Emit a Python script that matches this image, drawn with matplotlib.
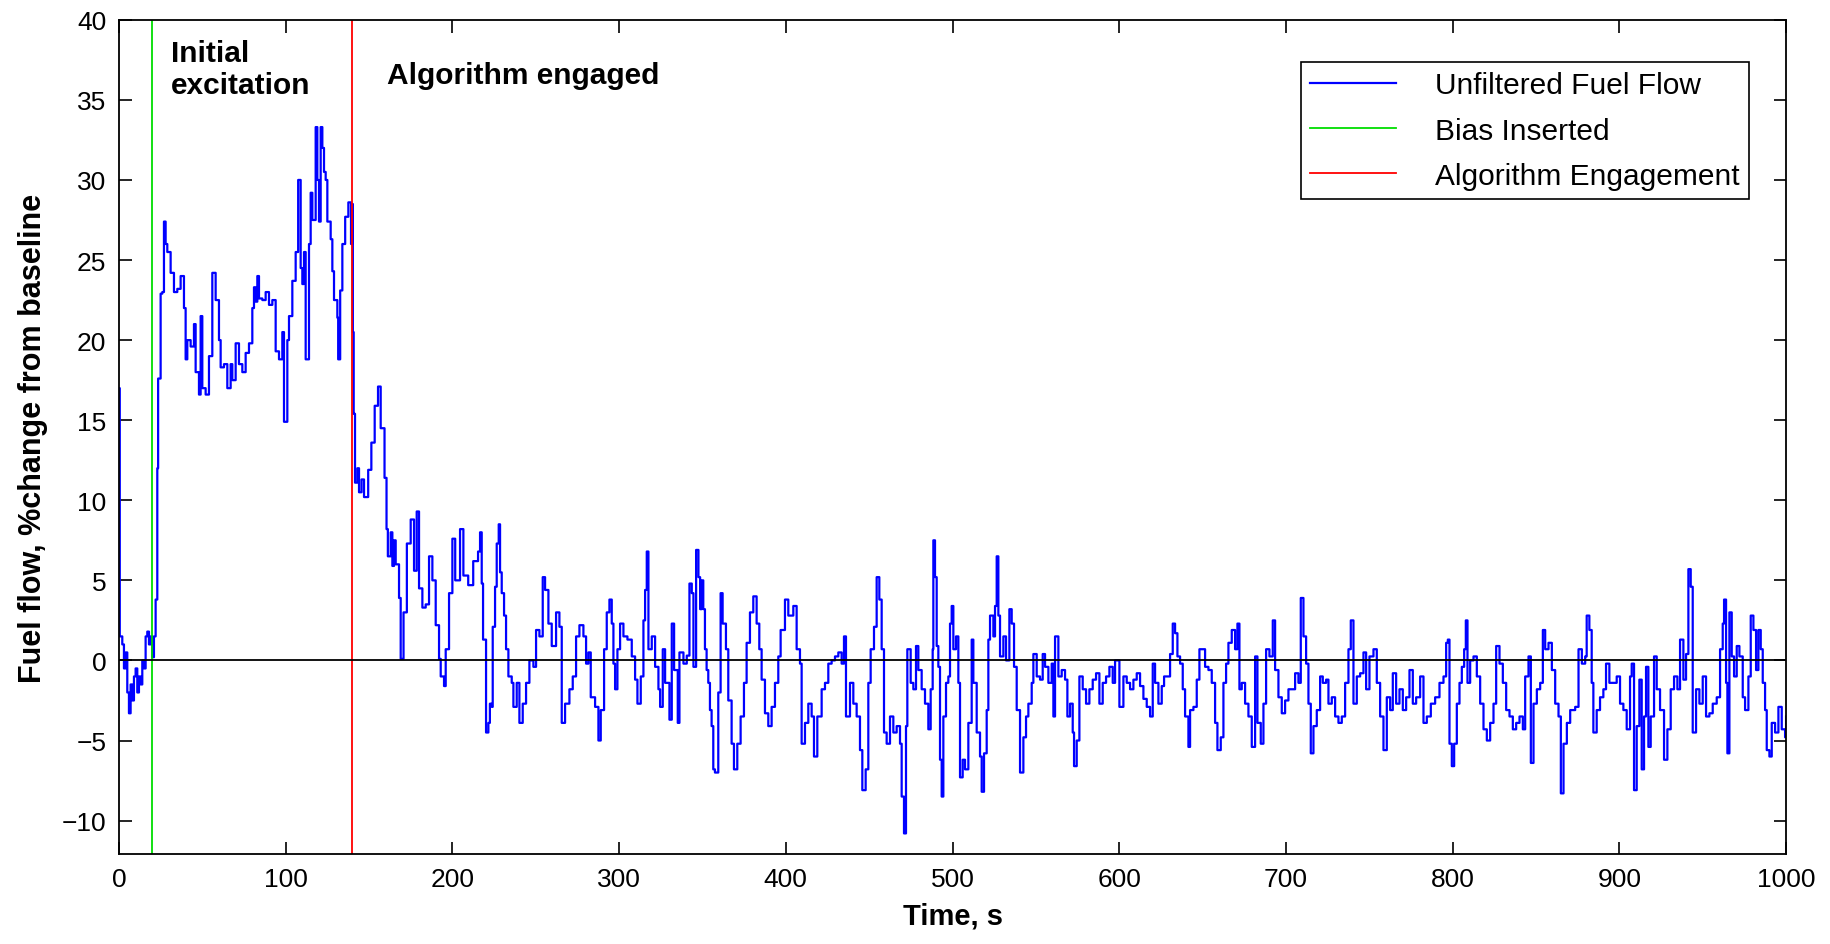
import matplotlib
matplotlib.use("Agg")
import matplotlib.pyplot as plt

plt.rcParams['font.family'] = ['Liberation Sans', 'DejaVu Sans']

# readings (time in s, fuel flow in % change from baseline)
time_s = [
    0, 0.5, 2, 3, 4, 5, 6, 7, 8, 9, 10, 11, 12, 13, 14, 15, 16, 17, 18, 19, 20, 21,
    22, 23, 23.5, 25, 26, 27, 28, 29, 31, 33, 35, 37, 39, 40, 41, 43, 45, 46, 48, 49, 50, 52, 54, 56, 58,
    60, 61, 63, 65, 67, 68, 70, 72, 74, 76, 78, 80, 81, 82, 83, 84, 86, 88, 90, 92, 94, 96, 98, 99,
    101, 102, 104, 106, 107.5, 109, 110, 111, 112, 114, 115, 116, 118, 119, 120, 121, 122, 123, 124, 125,
    127, 128, 129, 131, 131.5, 132.7, 134, 135.7, 137.6, 139.2, 139.8, 140.3, 140.8, 141.6, 143, 144,
    145.5, 147, 149.5, 151.4, 153.4, 155.4, 157, 159.3, 160.5, 161.3, 163, 164, 165, 166, 168, 169,
    170.7, 172.7, 175, 177, 178.6, 180, 182, 184, 186, 188, 190, 192, 193, 195, 196, 198,
    200, 201.7, 204.6, 206.6, 209.5, 212.5, 215.4, 216.6, 217.6, 218.4, 220.2, 221.6, 222.5, 223.6, 224.2,
    225.6, 226.6, 227.8, 228.6, 229.6, 231, 232.2, 233.6, 235.6, 236.6, 238.6, 240.2, 242.2, 244.2, 246.2,
    248.6, 250.2, 252.2, 254.2, 255.6, 257.6, 259.6, 262.2, 264.2, 265.6, 267.6, 270.2, 272.2, 274.2,
    276.2, 278.6, 280.2, 281.6, 283, 285.6, 287.6, 289, 291, 292.6, 294.2, 295.6, 296.6, 297.6, 299,
    300.6, 302.6, 305, 307.6, 309.6, 311, 313, 314.6, 315.6, 316.6, 317.6, 319.6, 321.6, 323.6, 324.6,
    326.2, 327.6, 330.2, 331.6, 333, 335.2, 336.2, 338.6, 340.6, 342.2, 343.6, 344.6, 346.2, 347.6, 348.6,
    349.5, 350.5, 351.5, 352.5, 353.5, 354.5, 355.5, 356.5, 357.5, 359.5, 360.9, 362.1, 364.1, 365.5,
    367.5, 368.9, 370.9, 372.9, 374.9, 376.5, 378.5, 380.5, 382.5, 384.1, 385.5, 387.5, 389.5, 391.5,
    393.5, 395.5, 396.9, 399.5, 401.5, 404.5, 406.5, 408.5, 409.5, 411.5, 413.5, 415.5, 416.9, 418.9,
    421.5, 423.5, 425.5, 427.5, 429.5, 431.5, 433.5, 434.9, 436.1, 438.5, 440.5, 442.5, 444.5, 445.9,
    447.9, 449.5, 450.9, 452.9, 454.5, 456.1, 457.5, 458.9, 460.5, 462.5, 464.5, 466.5, 468.5, 469.5,
    470.9, 472.1, 472.9, 474.9, 476.5, 478.1, 479.5, 481.5, 483.5, 485.5, 486.9, 488.1, 488.5, 489.5,
    490.5, 491.5, 492.5, 493.5, 494.5, 496.1, 497.5, 498.5, 499.5, 500.5, 502.1, 503.5, 504.5, 506.1,
    507.5, 509.5, 511.5, 512.5, 514.5, 516.5, 517.5, 518.9, 520.5, 521.5, 522.5, 524.5, 525.5, 526.5,
    527.5, 528.5, 530.5, 532.1, 534.1, 535.5, 536.9, 538.5, 540.5, 542.5, 544.1, 545.5, 547.5, 548.5,
    550.5, 552.5, 554.1, 555.5, 557.5, 559.5, 560.5, 561.5, 563.5, 565.5, 567.5, 568.9, 570.5, 572.1,
    572.9, 574.5, 576.1, 578.1, 580.1, 582.1, 584.1, 586.1, 588.1, 590.1, 592.1, 594.1, 596.1, 597.5,
    600.1, 602.5, 604.5, 606.5, 608.5, 610.5, 612.5, 614.5, 616.5, 618.5, 620.1, 621.5, 623.5, 625.5,
    626.9, 628.9, 630.5, 632.1, 633.5, 634.9, 636.5, 638.1, 639.5, 641.5, 642.5, 644.5, 646.5, 648.1,
    649.5, 651.5, 653.5, 655.5, 657.5, 658.9, 660.9, 662.5, 664.1, 665.5, 667.5, 669.5, 670.9, 672.1,
    673.5, 675.5, 677.5, 679.5, 681.5, 682.9, 684.9, 686.5, 688.1, 690.1, 692.1, 693.5, 695.5, 697.5,
    699.5, 701.5, 703.5, 705.5, 707.5, 708.9, 710.5, 712.1, 713.5, 714.9, 716.5, 718.5, 720.5, 722.1,
    724.1, 725.5, 727.5, 729.5, 731.5, 733.5, 735.5, 737.5, 738.9, 740.5, 742.5, 744.5, 746.5, 748.1,
    750.1, 752.5, 754.5, 756.5, 758.5, 760.5, 762.5, 764.1, 766.1, 768.1, 770.1, 772.1, 774.1, 776.1,
    778.1, 780.5, 782.5, 784.5, 786.9, 789.5, 792.1, 794.5, 796.1, 797.1, 798.1, 799.5, 800.9, 802.5,
    804.1, 805.5, 806.9, 807.9, 808.9, 810.5, 812.5, 814.5, 816.5, 818.5, 820.5, 822.5, 824.5, 826.1,
    828.1, 830.1, 832.1, 834.1, 836.1, 838.1, 840.1, 842.1, 843.5, 845.5, 846.9, 848.5, 850.5, 852.5,
    854.1, 855.5, 857.5, 859.5, 861.5, 863.5, 864.9, 866.5, 868.5, 870.5, 873.5, 875.5, 877.5, 879.5,
    880.4, 882, 883.4, 884.4, 886.4, 888.4, 890.4, 892, 894, 896, 898.4, 900.4, 902.4, 904.4,
    906.4, 907.4, 908.8, 910.4, 912, 913.4, 914.8, 916, 917.4, 918.8, 920.8, 922.4, 924.4, 926.8,
    928.8, 930.8, 932.8, 934.8, 936.4, 938.4, 940, 941.4, 942.8, 944, 946, 948, 950, 952,
    954, 956, 958.4, 960.4, 962, 962.8, 964, 964.8, 966, 967.4, 968.8, 970.4, 972, 974,
    975.4, 977.4, 978.8, 980.4, 982, 983.4, 984.8, 986, 987.4, 988.4, 990, 991.4, 993.4, 995.4,
    997.4, 999.4, 1000,
]
fuel_pct = [
    17, 1.5, 1.0, -0.5, 0.5, -2, -3.3, -1.5, -2.5, -1, -0.5, -2, -1, -1.5, 0, -0.5, 1.5, 1.8, 1.0, 1.5, 0.2, 1.5,
    3.8, 12, 17.6, 22.9, 23, 27.4, 26, 25.5, 24.2, 23, 23.2, 24, 22, 18.8, 20, 19.6, 21, 18, 16.6, 21.5, 17, 16.6, 19, 24.2, 22.5,
    20, 18.3, 18.5, 17, 18.5, 17.5, 19.8, 18.5, 18, 19.2, 19.8, 22, 23.3, 22.4, 24, 22.6, 22.5, 23.0, 22.2, 22.5, 19.3, 18.8, 20.5, 14.9,
    20, 21.5, 23.7, 25.5, 30, 24.5, 23.5, 25.5, 18.8, 26, 29.2, 27.5, 33.3, 30, 27.4, 33.3, 32, 30.5, 30, 27.4,
    26.3, 24.3, 22.5, 21.4, 18.8, 23.1, 26, 27.7, 28.6, 26, 28.5, 20.5, 15.4, 11.1, 12, 10.5,
    11.3, 10.2, 11.9, 13.6, 15.9, 17.1, 14.5, 11.4, 8.2, 6.5, 8, 5.9, 7.5, 6, 3.9, 0.1,
    3, 7.3, 8.8, 5.6, 9.3, 4.5, 3.3, 3.5, 6.5, 5, 2.2, 0.1, -1, -1.6, 0.7, 4.2,
    7.6, 5, 8.2, 5.3, 4.7, 6.2, 6.8, 8, 4.8, 1.3, -4.5, -3.9, -2.7, -2.9, 2.1,
    4.6, 7.3, 8.5, 5.5, 4.2, 2.8, 0.7, -1, -1.4, -2.9, -1.4, -3.9, -2.7, -1.4, 0,
    -0.4, 1.9, 1.5, 5.2, 4.4, 2.3, 0.9, 3, 2.1, -3.9, -2.7, -1.8, -1, 1.5,
    2.2, 1.5, -0.2, 0.5, -2.3, -2.9, -5, -3.1, 0.7, 3, 3.8, 2.3, -0.2, -1.8, 0.7,
    2.3, 1.5, 1.3, 0.25, -1.2, -2.7, -1, 2.5, 4.4, 6.8, 0.7, 1.5, -0.4, -1.8, -2.9,
    0.7, -1.4, -3.7, 2.3, -0.6, -3.9, 0.5, -0.2, 0.3, 4.8, 4.2, -0.4, 6.9, 5.2, 3.2,
    5, 3.2, 0.7, -0.6, -1.4, -3.1, -4.1, -6.8, -7, -2, 4.2, 2.3, 0.7, -2.5,
    -5.2, -6.8, -5.2, -3.5, -1.4, 1.1, 3, 4, 2.3, 0.7, -1.2, -3.3, -4.1, -2.9,
    -1.4, 0.25, 1.9, 3.8, 2.8, 3.4, 0.7, -0.2, -5.2, -3.9, -2.7, -3.5, -6, -3.5,
    -1.8, -1.4, -0.2, 0, 0.25, 0.5, -0.2, 1.5, -3.5, -1.4, -2.7, -3.5, -5.6, -8.1,
    -6.8, -1.4, 0.7, 2.1, 5.2, 3.8, 0.7, -4.5, -5.2, -3.5, -4.5, -4.1, -5.2, -8.5,
    -10.8, -4.1, 0.7, -1.4, -1.8, 0.9, -0.6, -1.8, -2.7, -4.3, -1.8, 0.7, 7.5, 5.2,
    0.9, -0.4, -6.2, -8.5, -3.5, -1.4, -1, 2.3, 3.4, 0.7, 1.5, -1.4, -7.3, -6.2,
    -6.8, -3.9, 1.3, -1.4, -4.5, -6, -8.2, -5.8, -3.1, 1.3, 2.8, 1.5, 3.4, 6.5,
    2.8, 0.25, 1.5, 0, 3.2, 2.3, -0.4, -3.1, -7, -4.8, -3.5, -2.7, -1.4, 0.4,
    -1, -1.2, 0.4, -0.4, -1.4, -0.2, -3.5, 1.5, -1, -0.6, -1.2, -3.5, -2.7, -4.5,
    -6.6, -5, -1, -1.8, -2.7, -1.8, -1.2, -0.8, -2.7, -1.4, -1, -0.4, -1.4, 0,
    -2.9, -1, -1.4, -1.8, -1.2, -0.8, -1.6, -2.4, -2.9, -3.5, -0.2, -1.4, -2.7, -1.6,
    -1, -1, 0.4, 2.3, 1.7, 0.25, -0.2, -1.8, -3.5, -5.4, -3.1, -2.9, -1.2, 0.7,
    0.7, -0.4, -0.6, -1.4, -3.9, -5.6, -4.8, -1.4, -0.2, 1.1, 1.9, 0.7, 2.3, -1.8,
    -1.4, -2.7, -3.5, -5.4, 0.25, -3.9, -5.2, -2.7, 0.7, 0.25, 2.5, -0.6, -2.3, -3.3,
    -2.5, -1.8, -1.8, -0.8, -1.4, 3.9, 1.5, -0.2, -2.7, -5.8, -4.1, -3.1, -1, -1.4,
    -1.2, -2.7, -2.3, -3.5, -3.9, -3.5, -1.4, 0.7, 2.5, -2.7, -1, -0.8, 0.5, -1.8,
    0.25, 0.7, -1.4, -3.5, -5.6, -2.3, -3.1, -0.8, -2.7, -1.8, -3.1, -2.3, -0.6, -2.7,
    -2.3, -1, -3.9, -3.5, -2.7, -2.3, -1.4, -1, 1.1, 1.3, -5.2, -6.6, -5.2, -2.7,
    -1.4, -0.4, 0.7, 2.5, -1.4, 0, 0.25, -1, -2.7, -4.3, -5, -3.9, -2.7, 0.9,
    -0.2, -1.4, -3.1, -3.5, -4.3, -3.9, -3.5, -4.3, -1, 0.25, -6.4, -2.7, -1.8, -1.4,
    1.9, 0.7, 1.1, -0.6, -2.7, -3.5, -8.3, -5.2, -3.9, -3.1, -2.9, 0.7, -0.2, 0.25,
    2.8, 1.9, -1.4, -4.5, -3.1, -2.3, -1.8, -0.2, -1.4, -1.4, -1, -2.7, -3.1, -4.3,
    -1, -0.2, -8.1, -4.1, -1.2, -6.8, -3.5, -0.4, -5.4, -3.5, 0.25, -1.8, -3.1, -6.2,
    -4.3, -1.8, -1, -1.8, 1.3, -1.2, 0.4, 5.7, 4.6, -4.5, -1.8, -2.7, -1, -3.5,
    -3.3, -2.7, -2.3, 0.7, 2.3, 3.8, -1.4, -5.8, 3, 0.25, -1, 0.9, 0.25, -2.3,
    -3.1, -1, 2.8, 1.9, -0.6, 1.9, 0.7, -1.4, -3.1, -5.6, -6, -3.9, -4.5, -2.9,
    -4.3, -4.8, -3.5,
]

bias_time = 20
engage_time = 140
x_ticks = list(range(0, 1001, 100))
y_ticks = list(range(-10, 41, 5))

fig = plt.figure(figsize=(18.3, 9.45), dpi=100)
ax = fig.add_axes([0.065, 0.095, 0.911, 0.883])

ax.plot(time_s, fuel_pct, color='#0000ff', lw=1.6, drawstyle='steps-post',
        label='Unfiltered Fuel Flow')
ax.axvline(bias_time, color='#00dd00', lw=1.3, label='Bias Inserted')
ax.axvline(engage_time, color='#ff0000', lw=1.3, label='Algorithm Engagement')
ax.axhline(0, color='black', lw=1.3)

ax.set_xlim(0, 1000)
ax.set_ylim(-12.1, 40)
ax.set_xticks(x_ticks)
ax.set_yticks(y_ticks)
ax.tick_params(direction='in', length=9, width=1.2, top=True, right=True,
               labelsize=19, pad=9)
for s in ax.spines.values():
    s.set_linewidth(1.3)

ax.set_xlabel('Time, s', fontsize=21, fontweight='bold', labelpad=8)
ax.set_ylabel('Fuel flow, %change from baseline', fontsize=22, fontweight='bold',
              labelpad=10)

ax.text(31, 38.8, 'Initial\nexcitation', fontsize=21.5, fontweight='bold',
        va='top', ha='left', linespacing=1.2)
ax.text(161, 37.4, 'Algorithm engaged', fontsize=21.5, fontweight='bold',
        va='top', ha='left')

leg = ax.legend(loc='upper right', bbox_to_anchor=(0.9775, 0.949), fontsize=21.5,
                fancybox=False, edgecolor='black', framealpha=1,
                handlelength=2.9, handletextpad=1.3, borderpad=0.3,
                labelspacing=0.58, borderaxespad=0)
leg.get_frame().set_linewidth(1.2)

fig.savefig('out.png', dpi=100)
